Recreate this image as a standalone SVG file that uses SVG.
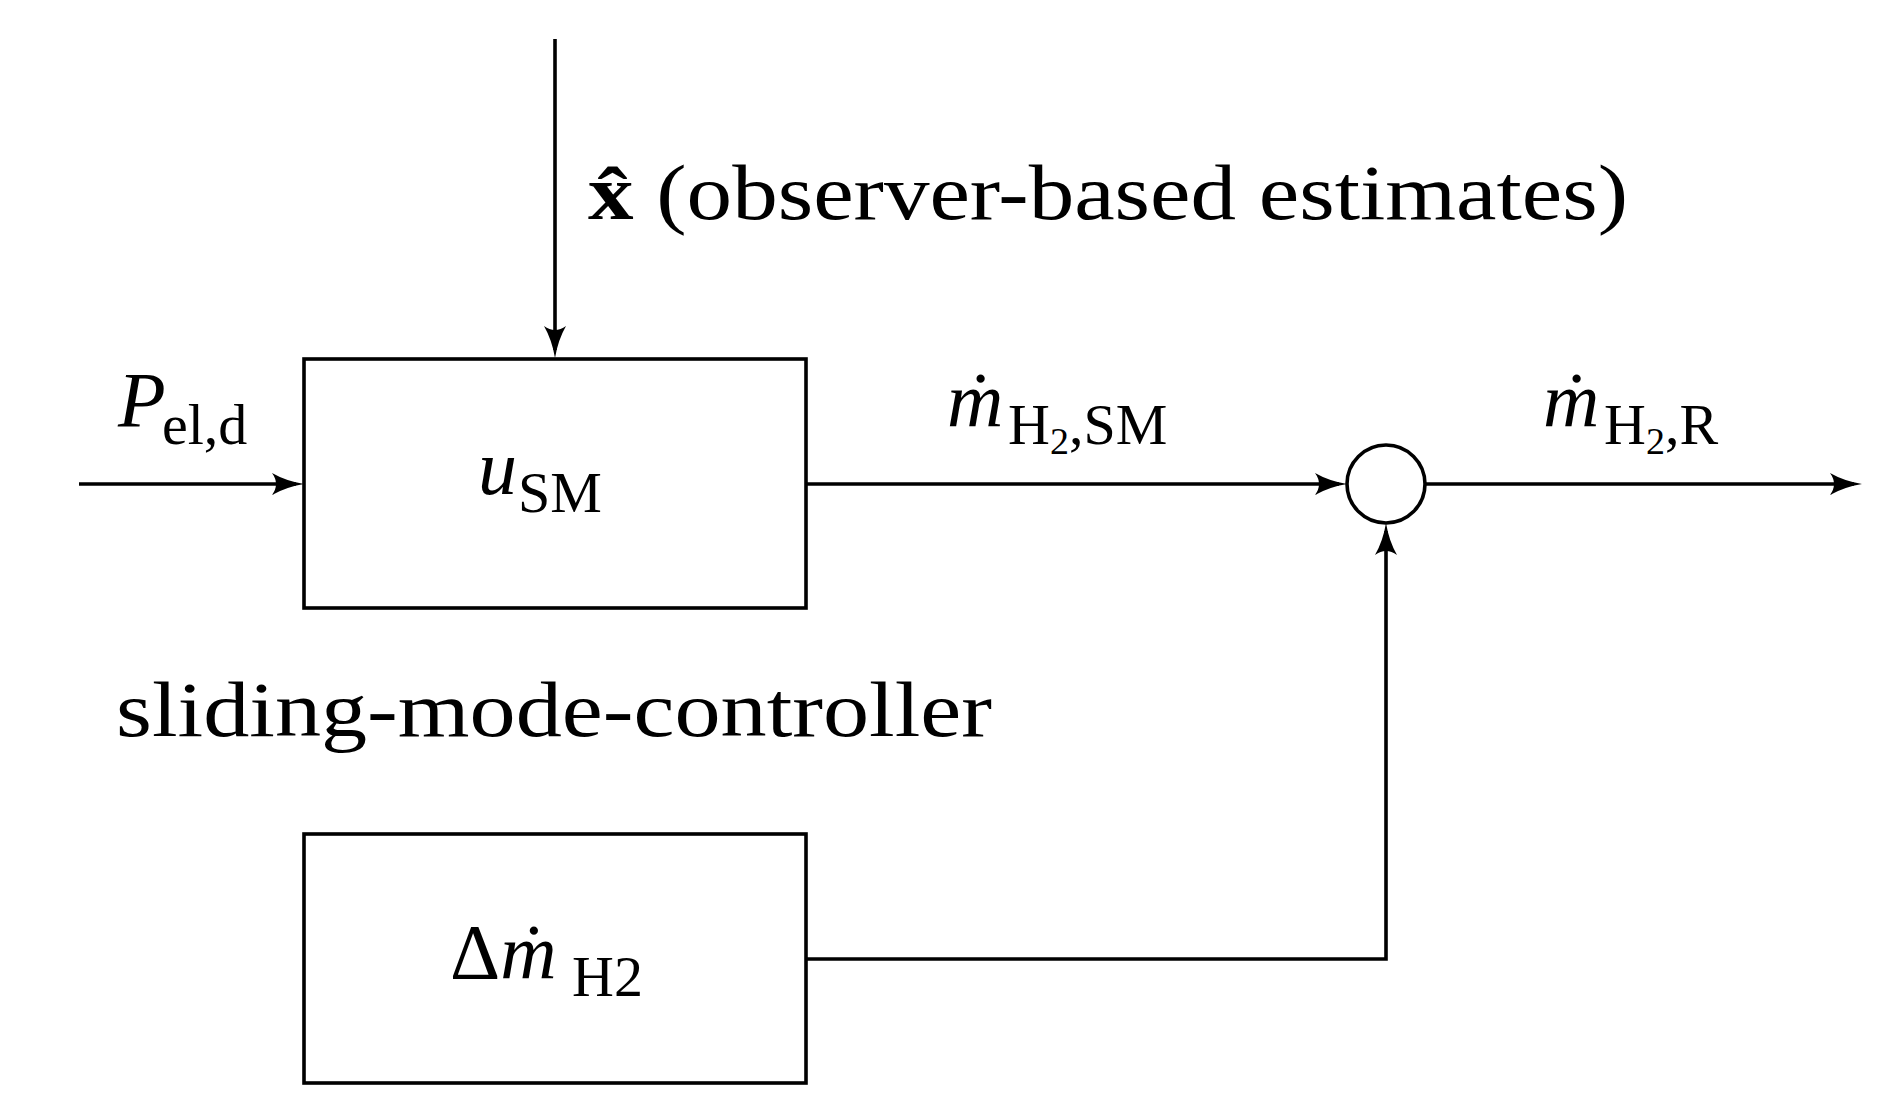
<svg xmlns="http://www.w3.org/2000/svg" width="1898" height="1119" viewBox="0 0 1898 1119">
<style>
.l{stroke:#000;stroke-width:3.6;fill:none}
text{font-family:"Liberation Serif",serif;fill:#000;font-size:78px}
.s{font-size:58px}
.i{font-style:italic}
</style>
<defs><marker id="a" viewBox="-22 -12 34 24" refX="2" refY="0" markerWidth="34" markerHeight="24" markerUnits="userSpaceOnUse" orient="auto"><path d="M-22,-11 Q-8,-3 10,0 Q-8,3 -22,11 Q-14,0 -22,-11Z" fill="#000"/></marker></defs>
<rect width="1898" height="1119" fill="#fff"/>
<g id="connectors">
<line class="l" x1="555" y1="39" x2="555" y2="350" marker-end="url(#a)"/>
<line class="l" x1="79" y1="484" x2="296" y2="484" marker-end="url(#a)"/>
<line class="l" x1="806" y1="484" x2="1339" y2="484" marker-end="url(#a)"/>
<line class="l" x1="1425" y1="484" x2="1854" y2="484" marker-end="url(#a)"/>
<polyline class="l" points="806,959 1386,959 1386,531" marker-end="url(#a)"/>
</g>
<g id="usm"><rect class="l" x="304" y="359" width="502" height="249"/>
<text x="478" y="494" class="i">u</text><text x="518" y="512" class="s">SM</text></g>
<g id="dmh2"><rect class="l" x="304" y="834" width="502" height="249"/>
<text x="450" y="978">Δ<tspan class="i">ṁ</tspan></text><text x="572" y="996" class="s">H2</text></g>
<g id="sum"><circle class="l" cx="1386" cy="484" r="39"/></g>
<g id="labels">
<text x="588" y="219" textLength="1040" lengthAdjust="spacingAndGlyphs"><tspan font-weight="bold">x̂</tspan> (observer-based estimates)</text>
<text x="118" y="426" class="i">P</text><text x="162" y="444" class="s">el,d</text>
<text x="947" y="426" class="i">ṁ</text><text x="1008" y="444" class="s">H<tspan font-size="38" dy="10">2</tspan><tspan dy="-10">,SM</tspan></text>
<text x="1543" y="426" class="i">ṁ</text><text x="1604" y="444" class="s">H<tspan font-size="38" dy="10">2</tspan><tspan dy="-10">,R</tspan></text>
<text x="116" y="736" textLength="876" lengthAdjust="spacingAndGlyphs">sliding-mode-controller</text>
</g>
</svg>
